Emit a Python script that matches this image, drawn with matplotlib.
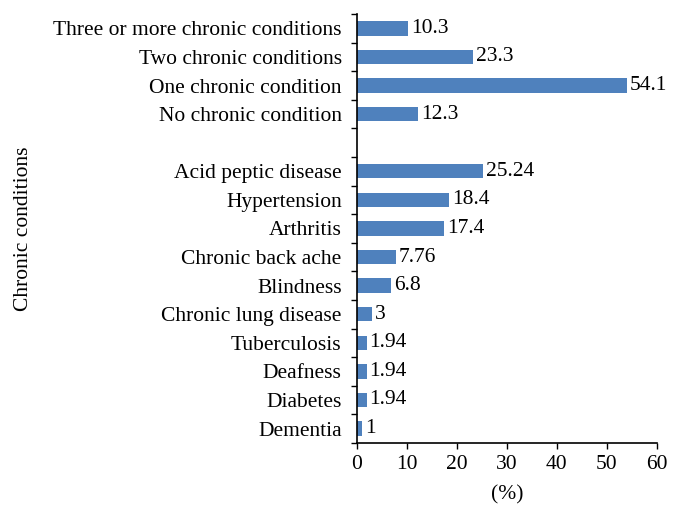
import matplotlib.pyplot as plt

# categories from top to bottom, empty string is the spacer row
labels = ["Three or more chronic conditions", "Two chronic conditions",
          "One chronic condition", "No chronic condition", "",
          "Acid peptic disease", "Hypertension", "Arthritis",
          "Chronic back ache", "Blindness", "Chronic lung disease",
          "Tuberculosis", "Deafness", "Diabetes", "Dementia"]
values = [10.3, 23.3, 54.1, 12.3, None,
          25.24, 18.4, 17.4, 7.76, 6.8, 3, 1.94, 1.94, 1.94, 1]
value_text = ["10.3", "23.3", "54.1", "12.3", "",
              "25.24", "18.4", "17.4", "7.76", "6.8", "3", "1.94", "1.94", "1.94", "1"]

plt.rcParams['font.family'] = ['Liberation Serif', 'DejaVu Serif']
fs = 15.5

fig = plt.figure(figsize=(6.8, 5.21), dpi=100)
ax = fig.add_axes([0.525, 0.150, 0.441, 0.823])

n = len(labels)
ypos = list(range(n))[::-1]
vals = [v if v is not None else 0 for v in values]
bars = ax.barh(ypos, vals, height=0.5, color='#4F81BD')
ax.bar_label(bars, labels=value_text, padding=2, fontsize=fs)

ax.set_yticks(ypos)
ax.set_yticklabels(labels, fontsize=fs)
ax.tick_params(axis='y', length=0, pad=11)
ax.set_yticks([i - 0.5 for i in range(n + 1)], minor=True)
ax.tick_params(axis='y', which='minor', length=4, width=1, direction='out')
ax.set_ylim(-0.5, n - 0.5)

ax.set_xlim(0, 60)
ax.set_xticks(range(0, 61, 10))
ax.tick_params(axis='x', length=4, width=1, direction='out', pad=5, labelsize=fs)

for s in ['top', 'right']:
    ax.spines[s].set_visible(False)
for s in ['left', 'bottom']:
    ax.spines[s].set_linewidth(1.2)

ax.set_xlabel('(%)', fontsize=fs, labelpad=8)
ax.set_ylabel('Chronic conditions', fontsize=fs)
ax.yaxis.set_label_coords(-1.08, 0.5)

fig.savefig('out.png', dpi=100)
